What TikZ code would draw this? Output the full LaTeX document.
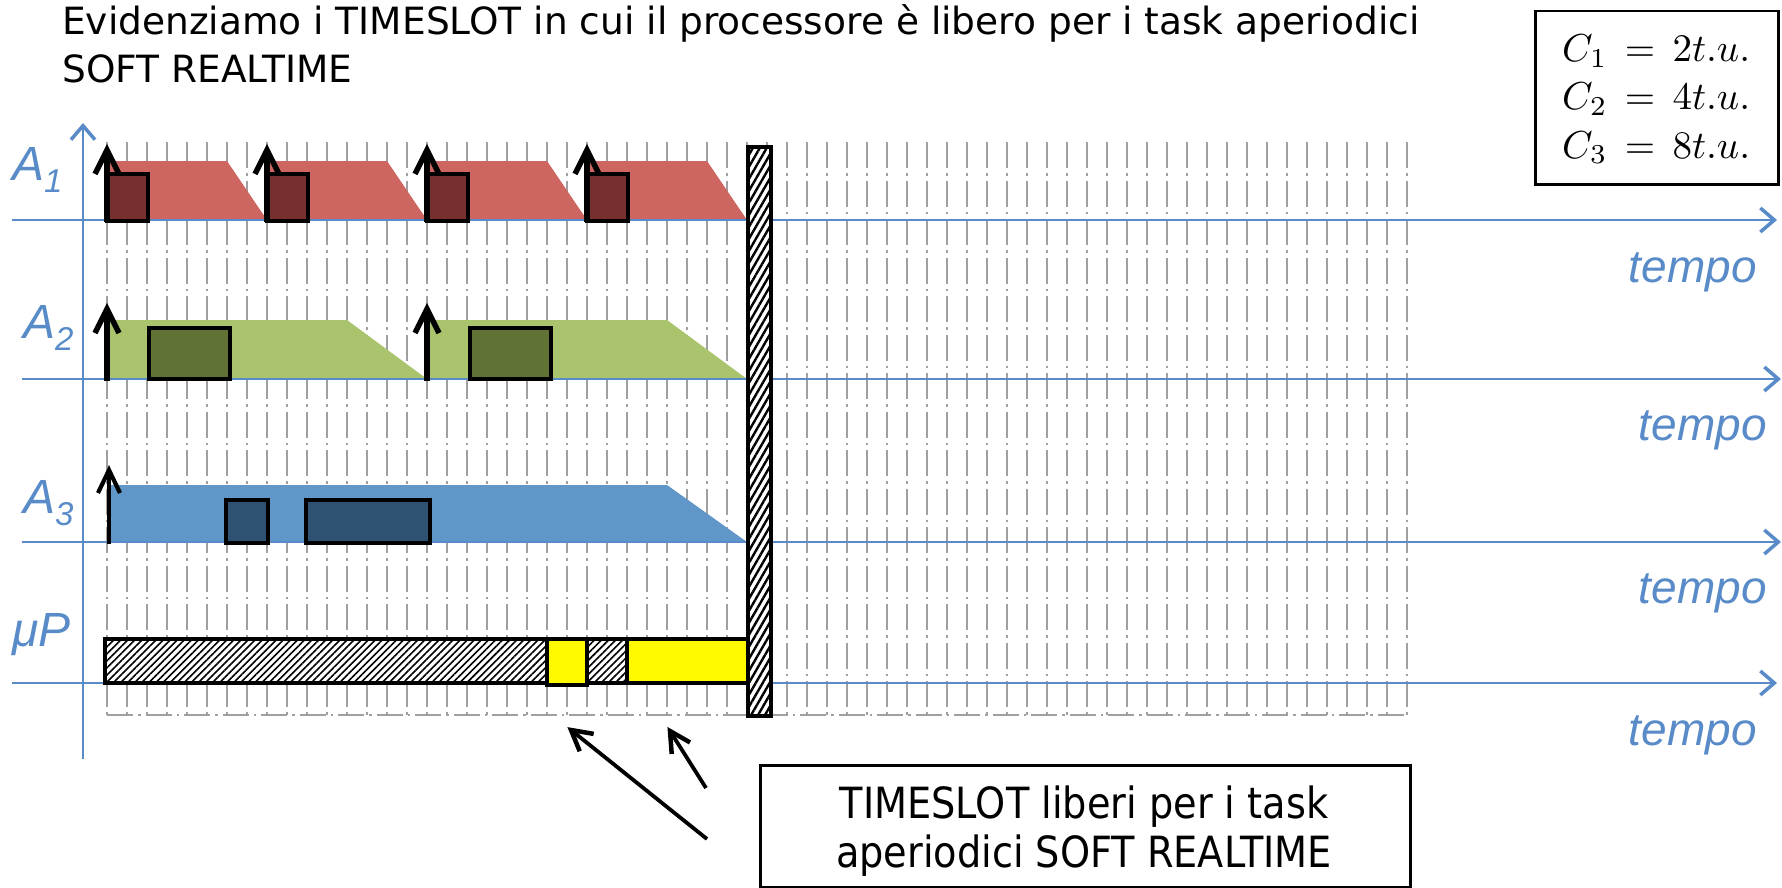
\documentclass[tikz,border=0pt]{standalone}
\usepackage{graphicx}
\usepackage{fontspec}
\setmainfont{DejaVu Sans}
\newfontfamily\labfont{Liberation Sans}
\newfontfamily\callfont[FakeStretch=0.89]{DejaVu Sans}
\usetikzlibrary{arrows.meta,patterns.meta,calc}
\definecolor{axblue}{RGB}{88,139,200}
\definecolor{aonefill}{RGB}{205,102,96}
\definecolor{aonebox}{RGB}{120,48,46}
\definecolor{atwofill}{RGB}{169,196,108}
\definecolor{atwobox}{RGB}{96,115,52}
\definecolor{athreefill}{RGB}{96,150,200}
\definecolor{athreebox}{RGB}{47,82,115}
\definecolor{gridgray}{RGB}{160,160,160}
\definecolor{slotyellow}{RGB}{255,250,0}
\newcommand{\bigmath}[1]{\scalebox{3.9}{$#1$}}
\begin{document}
\begin{tikzpicture}[x=1pt,y=-1pt,
  gridline/.style={draw=gridgray,line width=2.2pt,dash pattern=on 26pt off 5pt on 2.5pt off 5pt},
  timeaxis/.style={draw=axblue,line width=2pt,-{Straight Barb[length=14pt,width=24pt,line width=3.5pt]}},
  onetrap/.style={fill=aonefill},
  twotrap/.style={fill=atwofill},
  threetrap/.style={fill=athreefill},
  jobbox/.style={draw=black,line width=3.5pt},
  relshaft/.style={draw=black,line width=5.5pt},
  relhead/.style={draw=black,line width=5.5pt,miter limit=10},
  hatchbox/.style={draw=black,line width=3.5pt,preaction={fill=white},pattern={Lines[angle=45,distance=5pt,line width=1.6pt]}},
  endbar/.style={draw=black,line width=4pt,preaction={fill=white},pattern={Lines[angle=60,distance=6pt,line width=2.4pt]}},
  slotbox/.style={draw=black,line width=3.5pt,fill=slotyellow},
  lab/.style={inner sep=0pt,anchor=base west,text=axblue,font=\labfont\itshape\fontsize{48}{48}\selectfont},
  tempolab/.style={inner sep=0pt,anchor=base east,text=axblue,font=\labfont\itshape\fontsize{46}{46}\selectfont},
  titletext/.style={inner sep=0pt,anchor=base west,font=\fontsize{37.5}{45}\selectfont},
  mathline/.style={inner sep=0pt,anchor=base west,font=\fontsize{10}{12}\selectfont},
  calltext/.style={inner sep=0pt,anchor=base,font=\callfont\fontsize{43}{49}\selectfont},
  callshaft/.style={draw=black,line width=3.8pt},
  callhead/.style={draw=black,line width=4.5pt,miter limit=10}
]
\path[use as bounding box] (0,0) rectangle (1782,888);

% grid
\foreach \k in {0,...,65}
  \draw[gridline] ({107+20*\k},142) -- ({107+20*\k},715);
\draw[gridline] (107,715) -- (1407,715);

% trapezoids
\foreach \r in {107,267,427,587}
  \fill[onetrap] (\r,220) -- (\r,161) -- ({\r+120},161) -- ({\r+160},220) -- cycle;
\foreach \r in {107,427}
  \fill[twotrap] (\r,379) -- (\r,320) -- ({\r+240},320) -- ({\r+320},379) -- cycle;
\fill[threetrap] (107,542) -- (107,485) -- (667,485) -- (747,542) -- cycle;

% axes
\coordinate (aoneS) at (12,220);   \coordinate (aoneE) at (1777,220);
\coordinate (atwoS) at (22,379);   \coordinate (atwoE) at (1781,379);
\coordinate (athreeS) at (22,542); \coordinate (athreeE) at (1781,542);
\coordinate (upS) at (12,683);     \coordinate (upE) at (1777,683);
\coordinate (vaxS) at (83,759);    \coordinate (vaxE) at (83,123);
\draw[timeaxis] (aoneS) -- (aoneE);
\draw[timeaxis] (atwoS) -- (atwoE);
\draw[timeaxis] (athreeS) -- (athreeE);
\draw[timeaxis] (upS) -- (upE);
\draw[timeaxis] (vaxS) -- (vaxE);

% job boxes
\foreach \r in {107,267,427,587}
  \draw[jobbox,fill=aonebox] (\r,174) rectangle ({\r+41},221);
\draw[jobbox,fill=atwobox] (149,328) rectangle (230,379);
\draw[jobbox,fill=atwobox] (470,328) rectangle (551,379);
\draw[jobbox,fill=athreebox] (226,500) rectangle (268,543);
\draw[jobbox,fill=athreebox] (306,500) rectangle (430,543);

% release arrows
\foreach \r in {107,267,427,587}{
  \draw[relshaft] (\r,222) -- (\r,151);
  \draw[relhead] ({\r-12},174) -- (\r,150) -- ({\r+12},174);
}
\foreach \r in {107,427}{
  \draw[relshaft] (\r,381) -- (\r,310);
  \draw[relhead] ({\r-12},333) -- (\r,309) -- ({\r+12},333);
}
\draw[relshaft,line width=4.2pt] (109,544) -- (109,471);
\draw[relhead,line width=4.2pt] (98,493) -- (109,470) -- (120,493);

% end bar
\draw[endbar] (748,147) rectangle (771,716);

% processor bar
\draw[hatchbox] (105,639) rectangle (547,683);
\draw[slotbox] (547,639) rectangle (587,685);
\draw[hatchbox] (587,639) rectangle (627,683);
\draw[slotbox] (627,639) rectangle (748,683);

% labels
\node[lab] (lone) at (12,180) {A\fontsize{33}{33}\selectfont\raisebox{-12pt}{1}};
\node[lab] (ltwo) at (23,338) {A\fontsize{33}{33}\selectfont\raisebox{-12pt}{2}};
\node[lab] (lthree) at (23,513) {A\fontsize{33}{33}\selectfont\raisebox{-12pt}{3}};
\node[lab] (lup) at (12,646) {μP};

\node[tempolab] (tone) at (1757,282) {tempo};
\node[tempolab] (ttwo) at (1767,440) {tempo};
\node[tempolab] (tthree) at (1767,603) {tempo};
\node[tempolab] (tup) at (1757,745) {tempo};

% title
\node[titletext] (title1) at (62,35) {Evidenziamo i TIMESLOT in cui il processore è libero per i task aperiodici};
\node[titletext] (title2) at (62,83) {SOFT REALTIME};

% C box
\node[draw,line width=2.5pt,inner sep=0pt,minimum width=243pt,minimum height=173pt,anchor=north west] (cbox) at (1534,10) {};
\node[mathline] (cone) at (1562,62) {\bigmath{C_1 \,=\, 2t.u.}};
\node[mathline] (ctwo) at (1562,110) {\bigmath{C_2 \,=\, 4t.u.}};
\node[mathline] (cthree) at (1562,158) {\bigmath{C_3 \,=\, 8t.u.}};

% callout
\node[draw,line width=2.8pt,inner sep=0pt,minimum width=650pt,minimum height=122pt,anchor=north west] (callout) at (759,764) {};
\node[calltext] (callone) at (1084,818) {TIMESLOT liberi per i task};
\node[calltext] (calltwo) at (1084,867) {aperiodici SOFT REALTIME};
\coordinate (tailone) at (707,839); \coordinate (slotone) at (571,730);
\coordinate (tailtwo) at (706,788); \coordinate (slottwo) at (670,731);
\draw[callshaft] (tailone) -- (slotone);
\draw[callhead] ($(slotone)!23pt!29:(tailone)$) -- (slotone) -- ($(slotone)!23pt!-29:(tailone)$);
\draw[callshaft] (tailtwo) -- (slottwo);
\draw[callhead] ($(slottwo)!23pt!28:(tailtwo)$) -- (slottwo) -- ($(slottwo)!23pt!-28:(tailtwo)$);
\end{tikzpicture}
\end{document}
